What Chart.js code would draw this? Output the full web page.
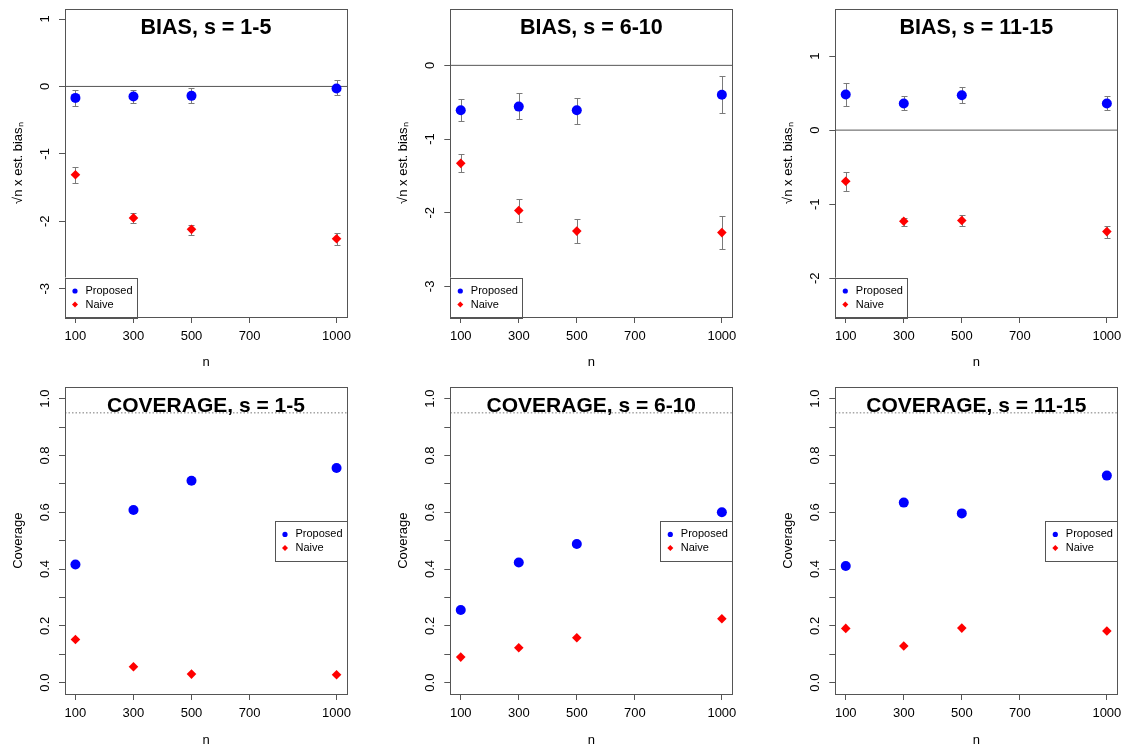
<!DOCTYPE html>
<html>
<head>
<meta charset="utf-8">
<script src="https://cdn.jsdelivr.net/npm/chart.js@4"></script>
<style>
  body { margin: 0; background: #fff; }
  #wrap { position: relative; width: 1125px; height: 749px; overflow: hidden; }
  #wrap canvas { position: absolute; }
</style>
</head>
<body>
<div id="wrap"></div>
<script>
const nValues = [100, 300, 500, 1000]
const xTicks = [100, 300, 500, 700, 1000]

// BIAS, s = 1-5
const bias1Prop = [-0.17, -0.15, -0.14, -0.03]
const bias1PropLo = [-0.29, -0.25, -0.24, -0.13]
const bias1PropHi = [-0.05, -0.05, -0.03, 0.09]
const bias1Naive = [-1.31, -1.95, -2.12, -2.26]
const bias1NaiveLo = [-1.43, -2.02, -2.2, -2.35]
const bias1NaiveHi = [-1.19, -1.88, -2.05, -2.17]

// BIAS, s = 6-10
const bias2Prop = [-0.61, -0.56, -0.61, -0.4]
const bias2PropLo = [-0.76, -0.73, -0.79, -0.64]
const bias2PropHi = [-0.46, -0.38, -0.44, -0.15]
const bias2Naive = [-1.33, -1.97, -2.25, -2.27]
const bias2NaiveLo = [-1.45, -2.12, -2.41, -2.49]
const bias2NaiveHi = [-1.2, -1.81, -2.09, -2.04]

// BIAS, s = 11-15
const bias3Prop = [0.48, 0.36, 0.47, 0.36]
const bias3PropLo = [0.33, 0.27, 0.37, 0.27]
const bias3PropHi = [0.63, 0.46, 0.58, 0.46]
const bias3Naive = [-0.69, -1.23, -1.22, -1.37]
const bias3NaiveLo = [-0.82, -1.3, -1.3, -1.46]
const bias3NaiveHi = [-0.57, -1.18, -1.14, -1.3]

// COVERAGE
const cov1Prop = [0.416, 0.608, 0.711, 0.756]
const cov1Naive = [0.152, 0.056, 0.03, 0.028]
const cov2Prop = [0.256, 0.423, 0.488, 0.6]
const cov2Naive = [0.09, 0.123, 0.158, 0.225]
const cov3Prop = [0.411, 0.634, 0.596, 0.729]
const cov3Naive = [0.191, 0.129, 0.192, 0.182]

const bias1Ticks = [-3, -2, -1, 0, 1]
const bias2Ticks = [-3, -2, -1, 0]
const bias3Ticks = [-2, -1, 0, 1]
const covTicks = [0, 0.1, 0.2, 0.3, 0.4, 0.5, 0.6, 0.7, 0.8, 0.9, 1]
const covTickLabels = ['0.0', '', '0.2', '', '0.4', '', '0.6', '', '0.8', '', '1.0']

const FONT = '"Liberation Sans", Arial, Helvetica, sans-serif'
Chart.defaults.font.family = FONT
Chart.defaults.color = '#000'

const BIAS_LABEL = '\u221An x est. bias\u2099'

const panels = [
  { title: 'BIAS, s = 1-5', ylab: BIAS_LABEL, yMin: -3.42, yMax: 1.144, ticks: bias1Ticks, tickLabels: bias1Ticks.map(String),
    prop: bias1Prop, naive: bias1Naive, bars: [[bias1PropLo, bias1PropHi], [bias1NaiveLo, bias1NaiveHi]], ref: 0, legend: 'bottomleft' },
  { title: 'BIAS, s = 6-10', ylab: BIAS_LABEL, yMin: -3.416, yMax: 0.761, ticks: bias2Ticks, tickLabels: bias2Ticks.map(String),
    prop: bias2Prop, naive: bias2Naive, bars: [[bias2PropLo, bias2PropHi], [bias2NaiveLo, bias2NaiveHi]], ref: 0, legend: 'bottomleft' },
  { title: 'BIAS, s = 11-15', ylab: BIAS_LABEL, yMin: -2.523, yMax: 1.631, ticks: bias3Ticks, tickLabels: bias3Ticks.map(String),
    prop: bias3Prop, naive: bias3Naive, bars: [[bias3PropLo, bias3PropHi], [bias3NaiveLo, bias3NaiveHi]], ref: 0, legend: 'bottomleft' },
  { title: 'COVERAGE, s = 1-5', ylab: 'Coverage', yMin: -0.04, yMax: 1.04, ticks: covTicks, tickLabels: covTickLabels,
    prop: cov1Prop, naive: cov1Naive, bars: [], ref: 0.95, dotted: true, legend: 'right' },
  { title: 'COVERAGE, s = 6-10', ylab: 'Coverage', yMin: -0.04, yMax: 1.04, ticks: covTicks, tickLabels: covTickLabels,
    prop: cov2Prop, naive: cov2Naive, bars: [], ref: 0.95, dotted: true, legend: 'right' },
  { title: 'COVERAGE, s = 11-15', ylab: 'Coverage', yMin: -0.04, yMax: 1.04, ticks: covTicks, tickLabels: covTickLabels,
    prop: cov3Prop, naive: cov3Naive, bars: [], ref: 0.95, dotted: true, legend: 'right' }
]

// page geometry of the 2 x 3 grid
const colLeft = [0, 375, 750]
const yAxisW = [65, 75.3, 85.3]
const padRight = [28, 17.7, 7.7]
const rowTop = [0, 375]
const rowH = [375, 374]
const padTop = [9.3, 12.3]
const xAxisH = [58, 55]
const xTitlePad = [4.5, 1.2]

const X_MIN = 64, X_MAX = 1036
const BOX = '#555'

function drawMarker (ctx, style, x, y, r, color) {
  ctx.fillStyle = color
  ctx.beginPath()
  if (style === 'circle') {
    ctx.arc(x, y, r, 0, Math.PI * 2)
  } else {
    ctx.moveTo(x, y - r); ctx.lineTo(x + r, y); ctx.lineTo(x, y + r); ctx.lineTo(x - r, y); ctx.closePath()
  }
  ctx.fill()
}

const panelDecor = {
  id: 'panelDecor',
  beforeDatasetsDraw (chart) {
    const p = chart.options.plugins.panelDecor.panel
    const ctx = chart.ctx
    const xs = chart.scales.x, ys = chart.scales.y
    ctx.save()
    ctx.strokeStyle = '#7a7a7a'
    ctx.lineWidth = 1
    p.bars.forEach(([lo, hi]) => {
      lo.forEach((v, i) => {
        const x = Math.round(xs.getPixelForValue(nValues[i])) + 0.5
        const y1 = Math.round(ys.getPixelForValue(v)) + 0.5
        const y2 = Math.round(ys.getPixelForValue(hi[i])) + 0.5
        ctx.beginPath()
        ctx.moveTo(x, y1); ctx.lineTo(x, y2)
        ctx.moveTo(x - 3, y1); ctx.lineTo(x + 3, y1)
        ctx.moveTo(x - 3, y2); ctx.lineTo(x + 3, y2)
        ctx.stroke()
      })
    })
    ctx.restore()
  },
  afterDraw (chart) {
    const p = chart.options.plugins.panelDecor.panel
    const ctx = chart.ctx
    const a = chart.chartArea
    const ys = chart.scales.y
    ctx.save()
    // box
    ctx.strokeStyle = BOX
    ctx.lineWidth = 1
    ctx.strokeRect(Math.round(a.left) + 0.5, Math.round(a.top) + 0.5, Math.round(a.right - a.left), Math.round(a.bottom - a.top))

    // y tick labels, parallel to the axis
    ctx.fillStyle = '#000'
    ctx.font = '13px ' + FONT
    ctx.textAlign = 'center'
    ctx.textBaseline = 'middle'
    p.ticks.forEach((v, i) => {
      if (!p.tickLabels[i]) return
      ctx.save()
      ctx.translate(a.left - 20, ys.getPixelForValue(v))
      ctx.rotate(-Math.PI / 2)
      ctx.fillText(p.tickLabels[i], 0, 0)
      ctx.restore()
    })

    // title inside the box
    ctx.font = 'bold ' + (p.legend === 'right' ? 21 : 21.5) + 'px ' + FONT
    ctx.fillText(p.title, (a.left + a.right) / 2, a.top + 19)

    // legend
    const lw = 72, lh = 39.5
    let lx, ly
    if (p.legend === 'bottomleft') {
      lx = a.left; ly = a.bottom - lh
    } else {
      lx = a.right - lw; ly = (a.top + a.bottom) / 2 - lh / 2
    }
    ctx.fillStyle = '#fff'
    ctx.fillRect(lx, ly, lw, lh)
    ctx.strokeStyle = BOX
    ctx.strokeRect(Math.round(lx) + 0.5, Math.round(ly) + 0.5, Math.round(lw), Math.round(lh))
    drawMarker(ctx, 'circle', lx + 10, ly + 13.5, 2.6, '#0000ff')
    drawMarker(ctx, 'diamond', lx + 10, ly + 27, 3, '#ff0000')
    ctx.fillStyle = '#000'
    ctx.font = '11px ' + FONT
    ctx.textAlign = 'left'
    ctx.fillText('Proposed', lx + 20.5, ly + 13.5)
    ctx.fillText('Naive', lx + 20.5, ly + 27)
    ctx.restore()
  }
}

const wrap = document.getElementById('wrap')

panels.forEach((p, k) => {
  const col = k % 3, row = Math.floor(k / 3)
  const canvas = document.createElement('canvas')
  canvas.width = 375
  canvas.height = rowH[row]
  canvas.style.left = colLeft[col] + 'px'
  canvas.style.top = rowTop[row] + 'px'
  wrap.appendChild(canvas)

  new Chart(canvas.getContext('2d'), {
    type: 'scatter',
    data: {
      datasets: [
        {
          label: 'Proposed',
          data: nValues.map((n, i) => ({ x: n, y: p.prop[i] })),
          pointStyle: 'circle',
          pointRadius: 5,
          backgroundColor: '#0000ff',
          borderWidth: 0
        },
        {
          label: 'Naive',
          data: nValues.map((n, i) => ({ x: n, y: p.naive[i] })),
          pointStyle: 'rectRot',
          pointRadius: 4.8,
          backgroundColor: '#ff0000',
          borderWidth: 0
        },
        {
          label: 'ref',
          data: [{ x: X_MIN, y: p.ref }, { x: X_MAX, y: p.ref }],
          showLine: true,
          pointRadius: 0,
          borderColor: p.dotted ? '#777' : BOX,
          borderWidth: 1,
          borderDash: p.dotted ? [1.5, 2] : []
        }
      ]
    },
    options: {
      responsive: false,
      animation: false,
      events: [],
      layout: { padding: { top: padTop[row], right: padRight[col], left: 0, bottom: 0 } },
      plugins: {
        legend: { display: false },
        tooltip: { enabled: false },
        panelDecor: { panel: p }
      },
      scales: {
        x: {
          type: 'linear',
          min: X_MIN,
          max: X_MAX,
          afterBuildTicks: (scale) => { scale.ticks = xTicks.map(v => ({ value: v })) },
          afterFit: (scale) => { scale.height = xAxisH[row]; scale.paddingLeft = 0; scale.paddingRight = 0 },
          ticks: { callback: (v) => String(v), font: { size: 13 }, color: '#000', padding: 6, maxRotation: 0, autoSkip: false },
          grid: { drawOnChartArea: false, tickLength: 6, color: BOX },
          border: { display: false },
          title: { display: true, text: 'n', font: { size: 13 }, color: '#000', padding: { top: 0, bottom: xTitlePad[row] } }
        },
        y: {
          type: 'linear',
          min: p.yMin,
          max: p.yMax,
          afterBuildTicks: (scale) => { scale.ticks = p.ticks.map(v => ({ value: v })) },
          afterFit: (scale) => { scale.width = yAxisW[col]; scale.paddingTop = 0; scale.paddingBottom = 0 },
          ticks: { display: false },
          grid: { drawOnChartArea: false, tickLength: 6, color: BOX },
          border: { display: false },
          title: { display: true, text: p.ylab, font: { size: 13 }, color: '#000', padding: { top: yAxisW[col] - 47 - 7.8, bottom: 0 } }
        }
      }
    },
    plugins: [panelDecor]
  })
})
</script>
</body>
</html>
